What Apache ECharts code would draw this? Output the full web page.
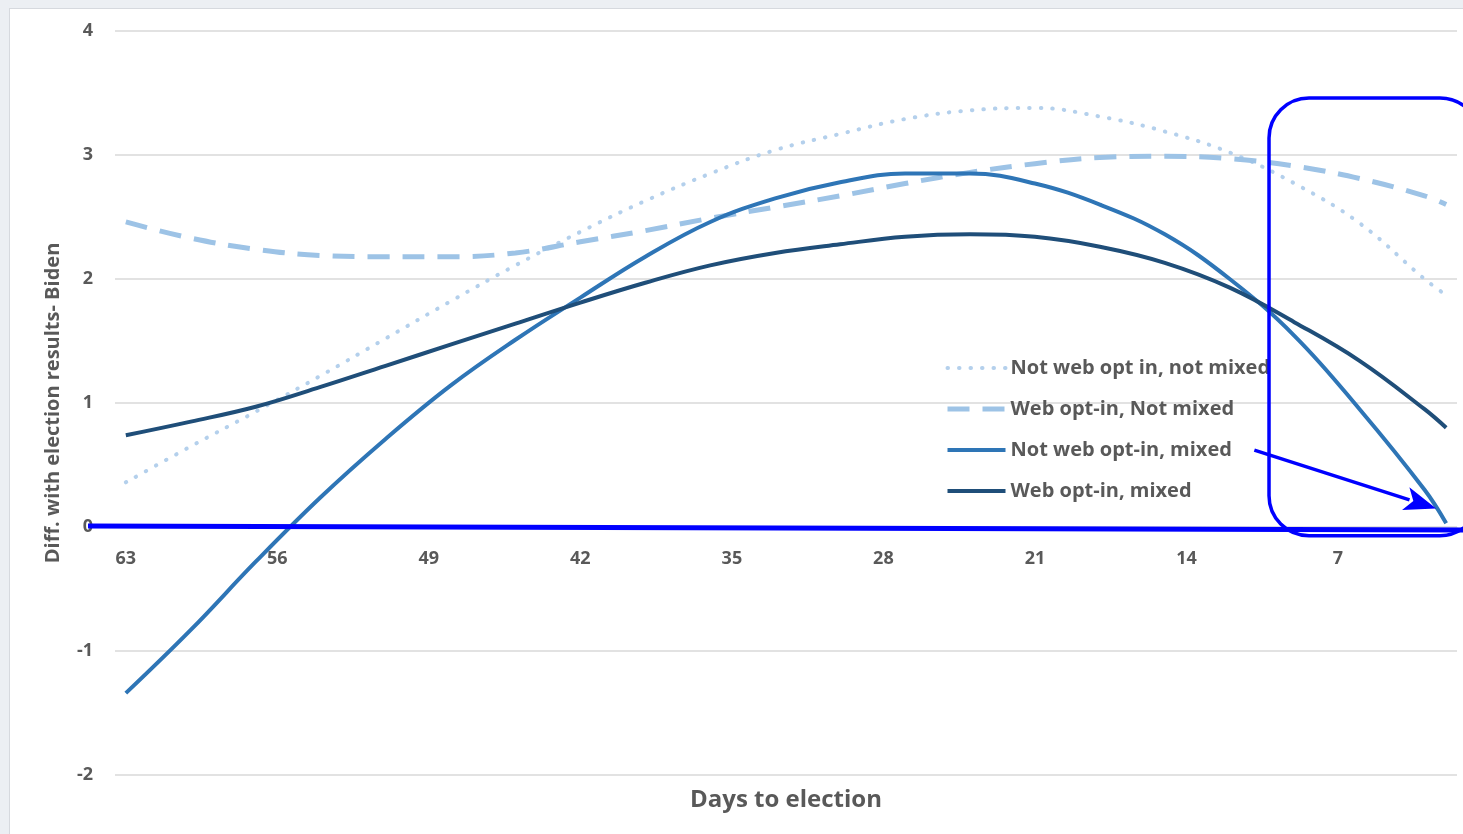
<!DOCTYPE html>
<html lang="en">
<head>
  <meta charset="UTF-8">
  <title>Days to election</title>
  <script src="https://cdn.jsdelivr.net/npm/echarts@6/dist/echarts.min.js"></script>
  <style>
    html, body { margin: 0; padding: 0; }
    body { width: 1463px; height: 834px; background: #eceff3; position: relative; overflow: hidden; }
    #panel { position: absolute; left: 9px; top: 8px; width: 1460px; height: 830px; background: #fff; border-left: 1px solid #d6d9de; border-top: 1px solid #d6d9de; }
    #main { position: absolute; left: 0; top: 0; width: 1463px; height: 834px; }
  </style>
</head>
<body>
  <div id="panel"></div>
  <div id="main"></div>
  <script>
    // categories: days to election (63 -> 2)
    var days = [];
    for (var d = 63; d >= 2; d--) days.push(String(d));

    // values at these days
    var sampleDays = [63, 60, 57, 54, 51, 48, 45, 42, 39, 36, 33, 30, 27, 24, 21, 18, 15, 12, 9, 6, 3, 2];
    var notWebNotMixed = [0.36, 0.65, 0.93, 1.22, 1.52, 1.82, 2.11, 2.38, 2.63, 2.85, 3.04, 3.17, 3.29, 3.36, 3.38, 3.31, 3.19, 3.02, 2.77, 2.45, 2.00, 1.87];
    var webNotMixed = [2.46, 2.33, 2.24, 2.19, 2.18, 2.18, 2.21, 2.30, 2.39, 2.49, 2.58, 2.67, 2.77, 2.86, 2.93, 2.98, 2.99, 2.97, 2.91, 2.81, 2.67, 2.60];
    var notWebMixed = [-1.34, -0.83, -0.28, 0.24, 0.71, 1.14, 1.51, 1.85, 2.18, 2.46, 2.65, 2.78, 2.85, 2.85, 2.77, 2.60, 2.36, 2.00, 1.54, 0.95, 0.30, 0.03];
    var webMixed = [0.74, 0.85, 0.97, 1.13, 1.30, 1.47, 1.64, 1.81, 1.97, 2.11, 2.21, 2.28, 2.34, 2.36, 2.34, 2.26, 2.13, 1.93, 1.65, 1.34, 0.95, 0.80];

    var seriesNames = ['Not web opt in, not mixed', 'Web opt-in, Not mixed', 'Not web opt-in, mixed', 'Web opt-in, mixed'];
    var colors = ['#b4d0ec', '#9dc3e6', '#2e75b6', '#1f4e79'];
    var lineStyles = [
      { width: 4, type: [0.5, 11], cap: 'round', color: colors[0] },
      { width: 5, type: [22, 13], color: colors[1] },
      { width: 4, type: 'solid', color: colors[2] },
      { width: 4, type: 'solid', color: colors[3] }
    ];
    var valueSets = [notWebNotMixed, webNotMixed, notWebMixed, webMixed];

    function pairs(vals) {
      return sampleDays.map(function (d, i) { return [String(d), vals[i]]; });
    }

    var txt = '#595959';
    var font = '"Open Sans", "Noto Sans", sans-serif';

    var gridTop = 31, gridBottom = 59, yMin = -2, yMax = 4;
    // x axis sits on the zero line: shift it up from the grid bottom
    var zeroOffset = -(834 - gridTop - gridBottom) * (0 - yMin) / (yMax - yMin);

    var myChart = echarts.init(document.getElementById('main'));
    var option = {
      backgroundColor: 'transparent',
      textStyle: { fontFamily: font },
      grid: { left: 115, right: 6, top: gridTop, bottom: gridBottom, containLabel: false, outerBoundsMode: 'none' },
      legend: {
        data: seriesNames.map(function (n, i) {
          return { name: n, lineStyle: lineStyles[i], itemStyle: { opacity: 0 } };
        }),
        orient: 'vertical',
        left: 940,
        top: 353,
        itemGap: 21,
        itemWidth: 58,
        itemHeight: 24,
        textStyle: { color: txt, fontSize: 20, fontWeight: 'bold', fontFamily: font }
      },
      xAxis: {
        type: 'category',
        data: days,
        boundaryGap: true,
        offset: zeroOffset,
        axisLine: { show: true, onZero: false, lineStyle: { color: '#d9d9d9' } },
        axisTick: { show: false },
        axisLabel: {
          interval: function (idx) { return idx % 7 === 0; },
          color: txt, fontSize: 18, fontWeight: 'bold', margin: 23
        },
        name: 'Days to election',
        nameLocation: 'middle',
        nameGap: 261,
        nameTextStyle: { color: txt, fontSize: 24, fontWeight: 'bold' }
      },
      yAxis: {
        type: 'value',
        min: yMin,
        max: yMax,
        interval: 1,
        axisLine: { show: false },
        axisTick: { show: false },
        splitLine: { lineStyle: { color: '#d9d9d9', width: 1.5 } },
        axisLabel: { color: txt, fontSize: 18, fontWeight: 'bold', margin: 22 },
        name: 'Diff. with election results- Biden',
        nameLocation: 'middle',
        nameGap: 52,
        nameTextStyle: { color: txt, fontSize: 20, fontWeight: 'bold' }
      },
      series: valueSets.map(function (vals, i) {
        return {
          name: seriesNames[i], type: 'line', data: pairs(vals),
          smooth: 0.4, showSymbol: false, symbol: 'none',
          color: colors[i],
          lineStyle: lineStyles[i]
        };
      }),
      animation: false
    };
    myChart.setOption(option);

    // hand-drawn blue annotations, anchored through the axes
    var zeroY = myChart.convertToPixel({ yAxisIndex: 0 }, 0);
    var boxLeft = myChart.convertToPixel({ xAxisIndex: 0 }, '10') - 4;
    var boxTop = myChart.convertToPixel({ yAxisIndex: 0 }, 3.46);
    var boxBottom = myChart.convertToPixel({ yAxisIndex: 0 }, -0.07);
    var arrowFromX = myChart.convertToPixel({ xAxisIndex: 0 }, '11') + 3;
    var arrowFromY = myChart.convertToPixel({ yAxisIndex: 0 }, 0.62);
    var tipX = myChart.convertToPixel({ xAxisIndex: 0 }, '2') - 10;
    var tipY = myChart.convertToPixel({ yAxisIndex: 0 }, 0.15);
    var ang = Math.atan2(tipY - arrowFromY, tipX - arrowFromX);
    var hl = 32, hw = 12;
    var bx = tipX - hl * Math.cos(ang), by = tipY - hl * Math.sin(ang);
    var nx = -Math.sin(ang), ny = Math.cos(ang);

    myChart.setOption({
      graphic: [
        {
          type: 'line', z: 100,
          shape: { x1: 88, y1: zeroY - 1, x2: 1470, y2: zeroY + 3 },
          style: { stroke: '#0000ff', lineWidth: 5 }
        },
        {
          type: 'rect', z: 100,
          shape: { x: boxLeft, y: boxTop, width: 1480 - boxLeft, height: boxBottom - boxTop, r: 40 },
          style: { fill: 'none', stroke: '#0000ff', lineWidth: 3.5 }
        },
        {
          type: 'line', z: 100,
          shape: { x1: arrowFromX, y1: arrowFromY, x2: bx + 4 * Math.cos(ang), y2: by + 4 * Math.sin(ang) },
          style: { stroke: '#0000ff', lineWidth: 3.5 }
        },
        {
          type: 'polygon', z: 100,
          shape: { points: [[tipX, tipY], [bx + nx * hw, by + ny * hw], [bx + 8 * Math.cos(ang), by + 8 * Math.sin(ang)], [bx - nx * hw, by - ny * hw]] },
          style: { fill: '#0000ff' }
        }
      ]
    });
  </script>
</body>
</html>
